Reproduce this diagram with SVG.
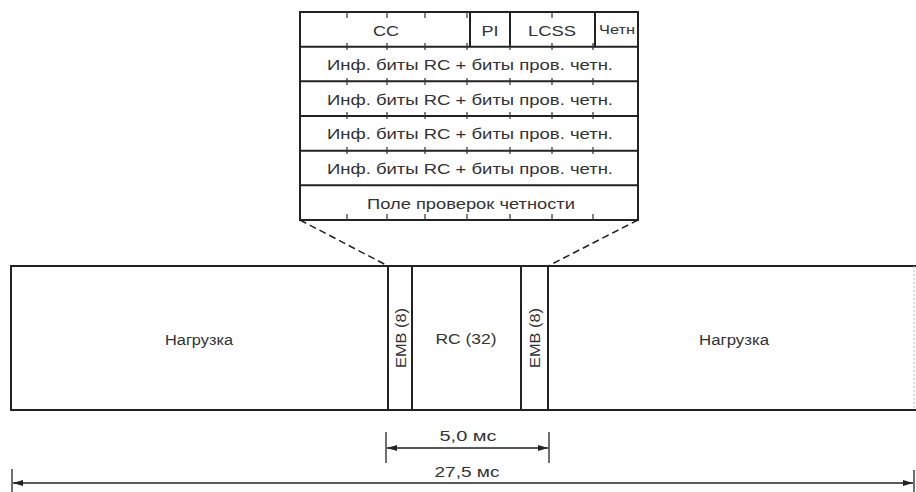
<svg xmlns="http://www.w3.org/2000/svg" width="916" height="492" viewBox="0 0 916 492">
<style>
  .ln { stroke:#222; stroke-width:2; fill:none; }
  .thin { stroke:#222; stroke-width:1.3; fill:none; }
  .tk { stroke:#333; stroke-width:1.2; }
  .dash { stroke:#222; stroke-width:1.5; stroke-dasharray:7 4; fill:none; }
  text { font-family:"Liberation Sans", Arial, sans-serif; font-size:15.5px; fill:#333; text-anchor:middle; dominant-baseline:central; }
</style>
<defs>
  <marker id="arr" viewBox="0 0 10 6" refX="10" refY="3" markerWidth="10" markerHeight="6" markerUnits="userSpaceOnUse" orient="auto-start-reverse">
    <path d="M0,0 L10,3 L0,6 z" fill="#222"/>
  </marker>
</defs>
<rect width="916" height="492" fill="#fff"/>

<g id="table">
  <rect x="300" y="12" width="338" height="208" class="ln"/>
  <line x1="300" y1="46.7" x2="638" y2="46.7" class="ln"/>
  <line x1="300" y1="81.3" x2="638" y2="81.3" class="ln"/>
  <line x1="300" y1="116" x2="638" y2="116" class="ln"/>
  <line x1="300" y1="150.7" x2="638" y2="150.7" class="ln"/>
  <line x1="300" y1="185.3" x2="638" y2="185.3" class="ln"/>
  <line x1="470" y1="12" x2="470" y2="46.7" class="ln"/>
  <line x1="510" y1="12" x2="510" y2="46.7" class="ln"/>
  <line x1="595" y1="12" x2="595" y2="46.7" class="ln"/>
  <g class="tk">
    <path d="M347,12v6M387,12v6M425,12v6M467,12v6M552,12v6"/>
    <path d="M347,43v7M387,43v7M425,43v7M467,43v7M510,43v7M552,43v7M593,43v7"/>
    <path d="M347,78v7M387,78v7M425,78v7M467,78v7M510,78v7M552,78v7M593,78v7"/>
    <path d="M347,112v7M387,112v7M425,112v7M467,112v7M510,112v7M552,112v7M593,112v7"/>
    <path d="M347,147v7M387,147v7M425,147v7M467,147v7M510,147v7M552,147v7M593,147v7"/>
    <path d="M347,214v6M387,214v6M425,214v6M467,214v6M510,214v6M552,214v6M593,214v6"/>
  </g>
  <text x="386" y="30" textLength="26" lengthAdjust="spacingAndGlyphs">CC</text>
  <text x="490" y="30" textLength="17" lengthAdjust="spacingAndGlyphs">PI</text>
  <text x="552" y="30" textLength="48" lengthAdjust="spacingAndGlyphs">LCSS</text>
  <text x="617" y="30" style="font-size:12px" textLength="36" lengthAdjust="spacingAndGlyphs">Четн</text>
  <text x="470" y="64" textLength="286" lengthAdjust="spacingAndGlyphs">Инф. биты RC + биты пров. четн.</text>
  <text x="470" y="99" textLength="286" lengthAdjust="spacingAndGlyphs">Инф. биты RC + биты пров. четн.</text>
  <text x="470" y="133" textLength="286" lengthAdjust="spacingAndGlyphs">Инф. биты RC + биты пров. четн.</text>
  <text x="470" y="168" textLength="286" lengthAdjust="spacingAndGlyphs">Инф. биты RC + биты пров. четн.</text>
  <text x="471" y="203" textLength="208" lengthAdjust="spacingAndGlyphs">Поле проверок четности</text>
</g>

<g id="connectors">
  <line x1="300" y1="220" x2="388" y2="266" class="dash"/>
  <line x1="638" y1="220" x2="548" y2="266" class="dash"/>
  <line x1="386" y1="432" x2="386" y2="463" class="thin"/>
  <line x1="549" y1="432" x2="549" y2="463" class="thin"/>
  <line x1="387" y1="448" x2="548" y2="448" class="thin" marker-start="url(#arr)" marker-end="url(#arr)"/>
  <line x1="12" y1="469" x2="12" y2="492" class="thin"/>
  <line x1="914" y1="470" x2="914" y2="492" class="thin"/>
  <line x1="13" y1="483" x2="913" y2="483" class="thin" marker-start="url(#arr)" marker-end="url(#arr)"/>
</g>

<g id="frame">
  <line x1="10" y1="266" x2="916" y2="266" class="ln"/>
  <line x1="10" y1="410" x2="916" y2="410" class="ln"/>
  <line x1="11" y1="266" x2="11" y2="410" class="ln"/>
  <line x1="914" y1="266" x2="914" y2="410" stroke="#bbb" stroke-width="1" stroke-dasharray="2 2"/>
</g>

<g id="payload-left">
  <text x="199" y="339" textLength="68" lengthAdjust="spacingAndGlyphs">Нагрузка</text>
</g>
<g id="emb-left">
  <rect x="388" y="266" width="24" height="144" class="ln"/>
  <text transform="translate(400,338) rotate(-90)" x="0" y="0" textLength="60" lengthAdjust="spacingAndGlyphs">EMB (8)</text>
</g>
<g id="rc">
  <text x="466" y="338" textLength="61" lengthAdjust="spacingAndGlyphs">RC (32)</text>
</g>
<g id="emb-right">
  <rect x="521" y="266" width="27" height="144" class="ln"/>
  <text transform="translate(534,338) rotate(-90)" x="0" y="0" textLength="60" lengthAdjust="spacingAndGlyphs">EMB (8)</text>
</g>
<g id="payload-right">
  <text x="734" y="339" textLength="70" lengthAdjust="spacingAndGlyphs">Нагрузка</text>
</g>

<g id="labels">
  <text x="468" y="435" textLength="57" lengthAdjust="spacingAndGlyphs">5,0 мс</text>
  <text x="467" y="471" textLength="65" lengthAdjust="spacingAndGlyphs">27,5 мс</text>
</g>
</svg>
